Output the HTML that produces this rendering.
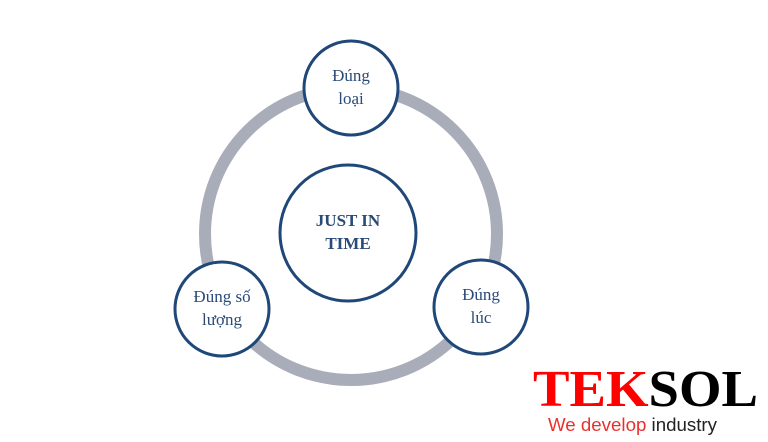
<!DOCTYPE html>
<html><head><meta charset="utf-8"><style>
html,body{margin:0;padding:0;background:#fff;}
body{width:768px;height:442px;overflow:hidden;position:relative;}
svg{position:absolute;left:0;top:0;}
</style></head><body>
<svg width="768" height="442" viewBox="0 0 768 442" xmlns="http://www.w3.org/2000/svg">
<circle cx="351" cy="234" r="146" fill="none" stroke="#a8adb9" stroke-width="12"/>
<g fill="#fff" stroke="#1f4778" stroke-width="3">
<circle cx="348" cy="233" r="68"/>
<circle cx="351" cy="88" r="47"/>
<circle cx="222" cy="309" r="47"/>
<circle cx="481" cy="307" r="47"/>
</g>
<g font-family="Liberation Serif, serif" fill="#2a4a78" text-anchor="middle" font-size="17">
<text x="351" y="81">Đúng</text>
<text x="351" y="104">loại</text>
<text x="222" y="302">Đúng  số</text>
<text x="222" y="325">lượng</text>
<text x="481" y="300">Đúng</text>
<text x="481" y="323">lúc</text>
<text x="348" y="226" font-weight="bold">JUST IN</text>
<text x="348" y="249" font-weight="bold">TIME</text>
</g>
<text x="533" y="406" font-family="Liberation Serif, serif" font-weight="bold" font-size="52" textLength="225" lengthAdjust="spacingAndGlyphs"><tspan fill="#f00">TEK</tspan><tspan fill="#000">SOL</tspan></text>
<text x="548" y="431" font-family="Liberation Sans, sans-serif" font-size="18" textLength="169" lengthAdjust="spacingAndGlyphs"><tspan fill="#e8312f">We develop</tspan><tspan fill="#222"> industry</tspan></text>
</svg>
</body></html>
